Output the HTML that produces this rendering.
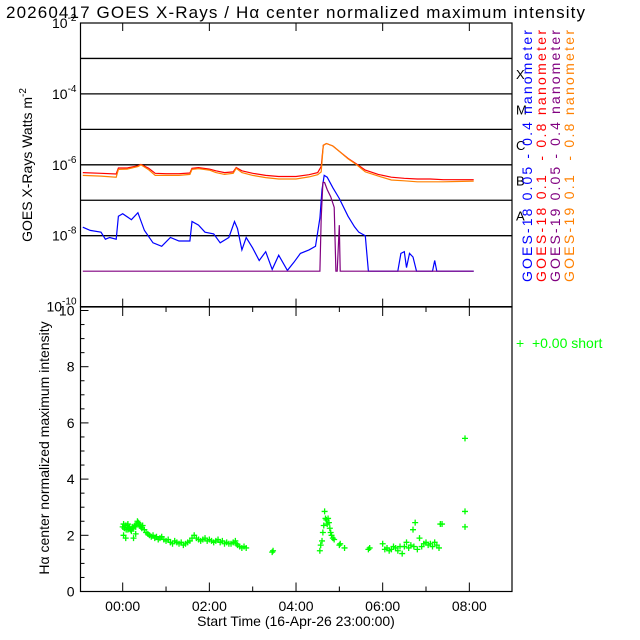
<!DOCTYPE html>
<html><head><meta charset="utf-8"><style>
body{margin:0;background:#fff}
svg{display:block;font-family:"Liberation Sans",sans-serif}
</style></head><body>
<svg id="c" width="640" height="640" xmlns="http://www.w3.org/2000/svg">
<rect width="640" height="640" fill="#fff"/>
<text x="6" y="18" font-size="17" fill="#000" textLength="579">20260417 GOES X-Rays / Hα center normalized maximum intensity</text>
<g id="topg"></g>
<g id="botg"></g>
</svg>
<script>
// ---- data ----
const xTickLabels = ["00:00","02:00","04:00","06:00","08:00"];
const xTickHours = [0,2,4,6,8];
const yTopExps = [-10,-8,-6,-4,-2];
const yBotTicks = [0,2,4,6,8,10];
const flareClasses = ["A","B","C","M","X"];
const flareExps = [-8,-7,-6,-5,-4];

const longT = [-0.92,-0.5,-0.15,-0.1,0.1,0.35,0.42,0.6,0.75,1.0,1.3,1.55,1.6,1.75,2.0,2.15,2.35,2.55,2.62,2.75,3.0,3.3,3.6,4.0,4.3,4.5,4.58,4.63,4.7,4.85,5.0,5.2,5.4,5.6,5.9,6.2,6.5,6.8,7.1,7.4,7.7,8.1];
const longRed = [-6.22,-6.24,-6.26,-6.09,-6.09,-6.03,-5.99,-6.1,-6.24,-6.25,-6.25,-6.23,-6.1,-6.08,-6.12,-6.17,-6.22,-6.2,-6.08,-6.17,-6.24,-6.3,-6.33,-6.33,-6.28,-6.22,-6.05,-5.45,-5.4,-5.47,-5.62,-5.82,-5.98,-6.15,-6.27,-6.35,-6.38,-6.4,-6.4,-6.42,-6.42,-6.42];
const longOrange = [-6.3,-6.32,-6.35,-6.13,-6.12,-6.05,-6.0,-6.14,-6.3,-6.3,-6.3,-6.27,-6.13,-6.11,-6.15,-6.22,-6.27,-6.24,-6.1,-6.22,-6.3,-6.36,-6.4,-6.4,-6.34,-6.28,-6.2,-5.45,-5.4,-5.47,-5.62,-5.83,-6.0,-6.2,-6.32,-6.43,-6.45,-6.48,-6.48,-6.48,-6.47,-6.46];

const shortT = [-0.92,-0.75,-0.5,-0.4,-0.3,-0.15,-0.1,0.0,0.2,0.35,0.5,0.7,0.9,1.1,1.3,1.55,1.6,1.75,1.9,2.1,2.25,2.45,2.58,2.65,2.75,2.85,3.0,3.15,3.3,3.45,3.6,3.8,3.95,4.1,4.3,4.45,4.55,4.6,4.65,4.72,4.85,5.0,5.2,5.35,5.45,5.52,5.6,5.62,5.67,6.35,6.42,6.5,6.55,6.62,6.7,6.78,6.8,7.15,7.2,7.25,8.1];
const shortBlue = [-7.76,-7.85,-7.9,-8.1,-8.05,-8.1,-7.45,-7.38,-7.55,-7.35,-7.85,-8.2,-8.3,-8.05,-8.15,-8.15,-7.6,-7.7,-7.9,-7.95,-8.2,-8.05,-7.6,-7.8,-8.4,-8.05,-8.35,-8.7,-8.45,-8.95,-8.55,-8.98,-8.75,-8.5,-8.4,-8.3,-7.5,-6.7,-6.3,-6.35,-6.65,-6.95,-7.45,-7.75,-7.9,-7.95,-8.0,-8.3,-9.0,-9.0,-8.5,-8.45,-8.9,-8.5,-8.6,-9.0,-9.0,-9.0,-8.7,-9.0,-9.0];
const shortT19 = [-0.92,4.55,4.58,4.62,4.66,4.72,4.8,4.88,4.92,4.95,5.0,5.02,5.05,5.1,8.1];
const shortPurple = [-9,-9,-7.5,-6.5,-6.5,-6.7,-6.9,-7.2,-9,-9,-7.7,-9,-9,-9,-9];

const haT = [0.0,0.02,0.04,0.06,0.08,0.1,0.12,0.14,0.16,0.18,0.2,0.22,0.24,0.26,0.28,0.3,0.32,0.34,0.36,0.38,0.4,0.42,0.44,0.46,0.5,0.54,0.58,0.62,0.66,0.7,0.74,0.78,0.82,0.86,0.9,0.95,1.0,1.05,1.1,1.15,1.2,1.25,1.3,1.35,1.4,1.45,1.5,1.55,1.6,1.65,1.7,1.75,1.8,1.85,1.9,1.95,2.0,2.05,2.1,2.15,2.2,2.25,2.3,2.35,2.4,2.45,2.5,2.55,2.6,2.62,2.65,2.7,2.75,2.8,2.85,0.02,0.07,0.12,0.25,0.3,3.45,3.47,4.55,4.57,4.6,4.62,4.64,4.66,4.68,4.7,4.72,4.74,4.76,4.78,4.8,4.82,4.85,4.88,5.0,5.02,5.12,5.67,5.7,6.0,6.05,6.1,6.15,6.2,6.25,6.3,6.35,6.4,6.45,6.5,6.55,6.6,6.65,6.7,6.72,6.75,6.8,6.85,6.9,6.95,7.0,7.05,7.1,7.15,7.2,7.25,7.3,7.33,7.37,7.9,7.9,7.9];
const haV = [2.3,2.4,2.25,2.35,2.2,2.35,2.4,2.25,2.3,2.2,2.15,2.3,2.25,2.3,2.35,2.3,2.4,2.5,2.45,2.4,2.35,2.3,2.25,2.35,2.2,2.1,2.05,2.0,1.95,2.0,1.9,1.95,1.85,1.9,1.95,1.85,1.8,1.85,1.75,1.7,1.8,1.75,1.7,1.75,1.65,1.7,1.75,1.8,1.9,2.0,1.9,1.85,1.8,1.85,1.9,1.8,1.85,1.8,1.75,1.8,1.85,1.75,1.8,1.7,1.75,1.7,1.7,1.75,1.8,1.7,1.65,1.6,1.55,1.6,1.55,2.0,1.9,2.2,1.9,2.05,1.4,1.45,1.45,1.65,1.8,2.1,2.35,2.85,2.6,2.55,2.4,2.6,2.45,2.25,2.1,2.0,1.9,1.85,1.65,1.7,1.55,1.5,1.55,1.7,1.5,1.55,1.45,1.5,1.6,1.55,1.45,1.6,1.35,1.6,1.75,1.55,1.65,2.2,1.6,2.45,1.5,1.9,1.6,1.7,1.75,1.65,1.7,1.6,1.75,1.65,1.55,2.4,2.4,2.3,5.45,2.85,2.2];

// ---- axes ----
const NS="http://www.w3.org/2000/svg";
const X0=80.5,X1=512,PXH=43.33;
const xs=t=>122.7+PXH*t;
const YT0=23,PXD=35.45;
const yTop=e=>YT0+(-2-e)*PXD;
const yBot=v=>591.5-28.1*v;
function mk(tag,attrs,parent){const e=document.createElementNS(NS,tag);for(const k in attrs)e.setAttribute(k,attrs[k]);parent.appendChild(e);return e;}
const topG=document.getElementById('topg'),botG=document.getElementById('botg');

let fr=mk('rect',{x:X0,y:YT0,width:X1-X0,height:yTop(-10)-YT0,fill:'none',stroke:'#000','stroke-width':1.2},topG);


for(let e=-8;e<=-3;e++){const l=mk('line',{x1:X0,x2:X1,y1:yTop(e),y2:yTop(e),stroke:'#000','stroke-width':1.3},topG);

}
xTickHours.forEach(h=>{const l=mk('line',{x1:xs(h),x2:xs(h),y1:YT0,y2:YT0+8,stroke:'#000'},topG);


const l2=mk('line',{x1:xs(h),x2:xs(h),y1:yTop(-10),y2:yTop(-10)-8,stroke:'#000'},topG);

});
yTopExps.forEach(e=>{const g=mk('text',{x:X0-4,y:yTop(e)+5,'font-size':14,'text-anchor':'end'},topG);


g.innerHTML='10<tspan dy="-7" font-size="10">'+e+'</tspan>';});
let yt=mk('text',{transform:'translate(32,165) rotate(-90)','font-size':14,'text-anchor':'middle'},topG);


yt.innerHTML='GOES X-Rays Watts m<tspan dy="-6" font-size="10">-2</tspan>';
flareClasses.forEach((c,i)=>{const t=mk('text',{x:516,y:yTop(flareExps[i])-15,'font-size':13},topG);t.textContent=c;

});
const legTxt=["GOES-18 0.05 - 0.4 nanometer","GOES-18 0.1  - 0.8 nanometer","GOES-19 0.05 - 0.4 nanometer","GOES-19 0.1  - 0.8 nanometer"];
const legCol=["#0000ff","#ff0000","#800080","#ff8000"];
legTxt.forEach((s,i)=>{const t=mk('text',{transform:'translate('+(532+14*i)+',282) rotate(-90)','font-size':14,fill:legCol[i],textLength:252},topG);t.textContent=s;
t.setAttribute('style','white-space:pre');

});

function line(T,V,col,name){const p=mk('polyline',{points:T.map((t,i)=>xs(t).toFixed(1)+','+yTop(V[i]).toFixed(1)).join(' '),fill:'none',stroke:col,'stroke-width':1.2},topG);

}
line(shortT,shortBlue,'#0000ff','goes18-short-series');
line(shortT19,shortPurple,'#800080','goes19-short-series');
line(longT,longRed,'#ff0000','goes18-long-series');
line(longT,longOrange,'#ff8000','goes19-long-series');

let fb=mk('rect',{x:X0,y:307,width:X1-X0,height:591.5-307,fill:'none',stroke:'#000','stroke-width':1.2},botG);


for(let v=0;v<=10;v+=0.5){const major=v%2===0;const l=mk('line',{x1:X0,x2:X0+(major?8:4),y1:yBot(v),y2:yBot(v),stroke:'#000'},botG);

}
yBotTicks.forEach(v=>{const t=mk('text',{x:X0-6,y:yBot(v)+5,'font-size':14,'text-anchor':'end'},botG);t.textContent=v;

});
for(let h=0;h<=8;h++){const major=h%2===0;const l=mk('line',{x1:xs(h),x2:xs(h),y1:591.5,y2:591.5-(major?9:5),stroke:'#000'},botG);


const l2=mk('line',{x1:xs(h),x2:xs(h),y1:307,y2:307+(major?9:5),stroke:'#000'},botG);

}
xTickHours.forEach((h,i)=>{const t=mk('text',{x:xs(h),y:611,'font-size':14,'text-anchor':'middle'},botG);t.textContent=xTickLabels[i];

});
let xt=mk('text',{x:296,y:626,'font-size':14,'text-anchor':'middle'},botG);xt.textContent='Start Time (16-Apr-26 23:00:00)';


let yb=mk('text',{transform:'translate(49,448) rotate(-90)','font-size':14,'text-anchor':'middle'},botG);yb.textContent='Hα center normalized maximum intensity';


let lg=mk('text',{x:516,y:348,'font-size':14,fill:'#00ff00'},botG);lg.textContent='+  +0.00 short';
lg.setAttribute('style','white-space:pre');


haT.forEach((t,i)=>{const x=xs(t),y=yBot(haV[i]);const p=mk('path',{d:`M${x-3},${y}H${x+3}M${x},${y-3}V${y+3}`,stroke:'#00ff00','stroke-width':1.3},botG);

});
</script>
</body></html>
